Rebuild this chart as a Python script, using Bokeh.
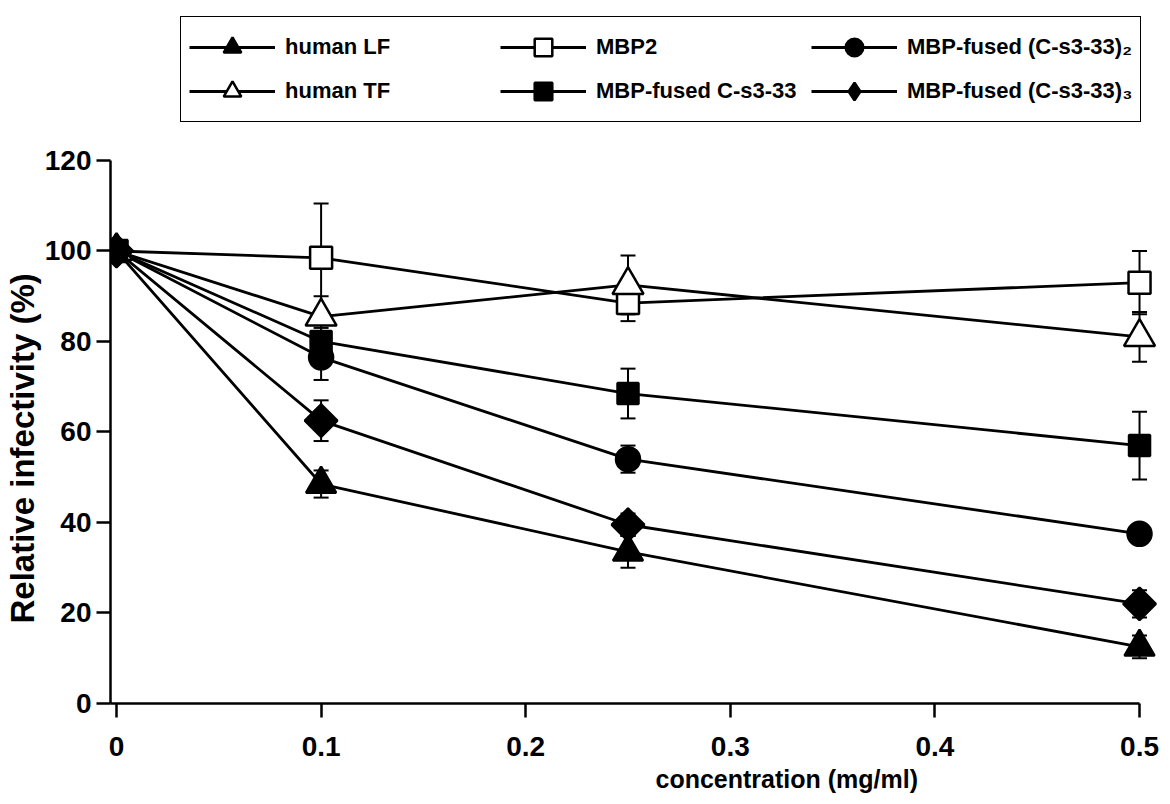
import math
from bokeh.plotting import figure
from bokeh.models import (Range1d, LinearAxis, FixedTicker, CustomJSTickFormatter, Legend,
                          LegendItem, Whisker, TeeHead, ColumnDataSource, Title)
from bokeh.embed import file_html
from bokeh.resources import INLINE

# ---- data ----
conc = [0, 0.1, 0.25, 0.5]
x_ticks = [0, 0.1, 0.2, 0.3, 0.4, 0.5]
y_ticks = [0, 20, 40, 60, 80, 100, 120]

human_lf = [100, 48.5, 33.5, 12.5]
human_lf_err = [0, 3, 3.5, 2.5]
human_tf = [100, 85.5, 92.5, 81]
human_tf_err = [0, 4.5, 6.5, 5.5]
mbp2 = [100, 98.5, 88.5, 93]
mbp2_err = [0, 12, 4, 7]
c1 = [100, 80, 68.5, 57]
c1_err = [0, 3, 5.5, 7.5]
c2 = [100, 76.5, 54, 37.5]
c2_err = [0, 5, 3, 1.5]
c3 = [100, 62.5, 39.5, 22]
c3_err = [0, 4.5, 2.5, 3]

series = [
    ("human LF", human_lf, human_lf_err, dict(marker="triangle", size=30, fill_color="black", angle=0.0)),
    ("MBP2", mbp2, mbp2_err, dict(marker="square", size=22, fill_color="white", angle=0.0)),
    ("MBP-fused (C-s3-33)\u2082", c2, c2_err, dict(marker="circle", size=24, fill_color="black", angle=0.0)),
    ("human TF", human_tf, human_tf_err, dict(marker="triangle", size=31, fill_color="white", angle=0.0)),
    ("MBP-fused C-s3-33", c1, c1_err, dict(marker="square", size=21, fill_color="black", angle=0.0)),
    ("MBP-fused (C-s3-33)\u2083", c3, c3_err, dict(marker="square", size=23, fill_color="black", angle=math.pi / 4)),
]

FONT = "Liberation Sans"

# frame spans the legend area too (y axis itself is bounded to 0..120)
p = figure(width=1162, height=804, output_backend="svg", toolbar_location=None,
           x_range=Range1d(-0.00293, 0.50927), y_range=Range1d(0, 154.25),
           x_axis_location=None, y_axis_location=None,
           min_border_left=108, min_border_right=4, min_border_top=5, min_border_bottom=101)
p.outline_line_color = None
p.xgrid.visible = False
p.ygrid.visible = False

# axes
yaxis = LinearAxis(ticker=FixedTicker(ticks=y_ticks), bounds=(0, 120))
xaxis = LinearAxis(ticker=FixedTicker(ticks=x_ticks), bounds=(-0.00293, 0.5),
                   formatter=CustomJSTickFormatter(code="return tick == 0 ? '0' : tick.toFixed(1)"))
for ax in (yaxis, xaxis):
    ax.axis_line_width = 2.5
    ax.major_tick_line_width = 2.5
    ax.major_tick_out = 14
    ax.major_tick_in = 0
    ax.minor_tick_line_color = None
    ax.major_label_text_font = FONT
    ax.major_label_text_font_style = "bold"
    ax.major_label_text_font_size = "28px"
    ax.major_label_text_color = "black"
yaxis.major_label_standoff = 5
xaxis.major_label_standoff = 19
p.add_layout(yaxis, "left")
p.add_layout(xaxis, "below")

ytitle = Title(text="Relative infectivity (%)", align="left", offset=80,
               text_font=FONT, text_font_style="bold", text_font_size="33px",
               text_color="black", standoff=2)
p.add_layout(ytitle, "left")

xtitle = Title(text="concentration (mg/ml)", align="left", offset=545,
               text_font=FONT, text_font_style="bold", text_font_size="25px",
               text_color="black", standoff=8)
p.add_layout(xtitle, "below")

legend_renderers = []
for name, vals, errs, st in series:
    src = ColumnDataSource(dict(x=conc, y=vals))
    lr = p.line("x", "y", source=src, line_color="black", line_width=2.8)
    ex = [c for c, e in zip(conc, errs) if e > 0]
    up = [v + e for v, e in zip(vals, errs) if e > 0]
    lo = [v - e for v, e in zip(vals, errs) if e > 0]
    wsrc = ColumnDataSource(dict(x=ex, upper=up, lower=lo))
    w = Whisker(base="x", upper="upper", lower="lower", source=wsrc, line_width=2,
                upper_head=TeeHead(size=15, line_width=2),
                lower_head=TeeHead(size=15, line_width=2), level="underlay")
    p.add_layout(w)
    legend_renderers.append([name, lr, src, st])

for entry in legend_renderers:
    name, lr, src, st = entry
    sr = p.scatter("x", "y", source=src, marker=st["marker"], size=st["size"],
                   fill_color=st["fill_color"], line_color="black", line_width=2.5,
                   angle=st["angle"])
    if st["angle"] != 0:
        # legend swatch for the diamond series (legend swatches ignore marker angle);
        # its single point lies outside the visible ranges
        sw = p.scatter(x=[-1.0], y=[-100.0], marker="diamond", size=30, fill_color="black",
                       line_color="black", line_width=2.5)
        entry.append(sw)
    else:
        entry.append(sr)

legend = Legend(items=[LegendItem(label=e[0], renderers=[e[1], e[4]]) for e in legend_renderers],
                orientation="horizontal", ncols=3, location=(70, 581))
legend.glyph_width = 86
legend.glyph_height = 44
legend.label_standoff = 10
legend.spacing = 0
legend.padding = 8
legend.margin = 0
legend.label_width = 215
legend.label_text_font = FONT
legend.label_text_font_style = "bold"
legend.label_text_font_size = "22px"
legend.label_text_color = "black"
legend.border_line_color = "black"
legend.border_line_alpha = 1
legend.border_line_width = 1.5
legend.background_fill_color = "white"
legend.background_fill_alpha = 1
p.add_layout(legend, "center")

open("out.html", "w").write(file_html(p, INLINE))
